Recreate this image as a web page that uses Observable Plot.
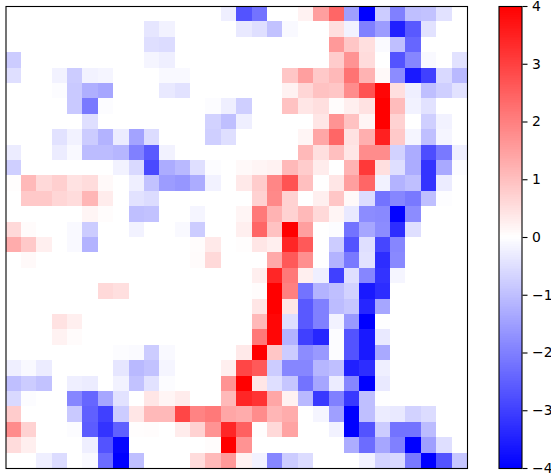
<!DOCTYPE html>
<html>
<head>
<meta charset="utf-8">
<script src="https://cdn.jsdelivr.net/npm/d3@7"></script>
<script src="https://cdn.jsdelivr.net/npm/@observablehq/plot@0.6"></script>
<style>
html,body{margin:0;padding:0;background:#fff;}
#wrap{position:relative;width:551px;height:476px;overflow:hidden;}
#wrap svg{position:absolute;left:0;top:0;background:transparent;}
</style>
</head>
<body>
<div id="wrap"></div>
<script>
const row00=[0,0,0,0,0,0,0,0,0,0,0,0,0,0,-.25,-2.7,-2.2,0,0,.2,1.5,2.4,-1.5,-4,-.8,-2,-1,-.95,-.45,0];
const row01=[0,0,0,0,0,0,0,0,0,-.4,-.2,0,0,0,0,-.35,-.5,-.95,-.1,0,0,.5,-.2,-2,-1.55,-3.5,-2.6,-.45,0,0];
const row02=[0,0,0,0,0,0,0,0,0,-.5,-.55,0,0,0,0,0,0,0,0,0,0,1.6,.9,.5,-.08,-1,-2.4,0,0,0];
const row03=[-.8,0,0,0,0,0,0,0,0,-.15,-.25,0,0,0,0,0,0,0,0,0,0,.8,1.7,.55,0,-2.7,-1.9,-.1,0,-.45];
const row04=[-.5,0,0,-.2,-.8,-.2,-.15,0,0,0,-.1,-.1,0,0,0,0,0,0,.9,1.5,.85,1.1,2.2,1.2,.1,-1.8,-3.6,-3,-.6,-1.1];
const row05=[0,0,0,-.05,-.85,-1.25,-1.4,0,0,0,-.35,-.45,0,0,0,0,0,0,.2,.65,.95,.9,1.8,2.7,3.9,.5,-.25,-1,-.75,-.45];
const row06=[0,0,0,0,-.85,-2.1,-.05,0,0,0,0,0,0,-.05,-.25,-.75,0,0,.95,.4,.5,.05,.25,.45,4,1.05,-.2,-.45,0,0];
const row07=[0,0,0,0,0,-.5,0,0,0,0,0,0,0,-.7,-1,-.25,0,0,0,0,.4,1.7,.95,.15,4,.7,0,-.75,-.2,0];
const row08=[0,0,0,-.45,-.2,-.8,-1.2,-.3,-1.45,-.55,0,0,0,-.75,-.5,0,0,0,0,.15,1.4,2.4,.45,1.25,3.5,.85,-.15,-1,-.15,0];
const row09=[-.3,0,0,-.3,-.1,-1.05,-1.05,-1.15,-2,-2.6,-.2,0,0,0,0,0,0,0,0,1.1,.5,1,.4,1.8,1.8,-.7,-1.3,-2.8,-2.1,-.25];
const row10=[-.75,0,0,0,0,0,0,-.2,-.6,-2.85,-1.3,-1.1,-.5,-.05,0,.1,.15,.2,1.1,.8,.3,0,1.2,3.1,.5,-.5,-1.3,-3.2,-1.35,-.05];
const row11=[.03,1.1,.6,.75,.45,.55,.1,0,-.25,-.95,-1.55,-1.65,-1.3,-.2,0,.35,.8,1.9,2.7,1,.02,.4,1.5,2.4,-.2,-1.2,-1,-3.2,-.3,0];
const row12=[0,.85,.85,.65,.55,1.15,.3,0,-.45,-.55,0,0,0,0,0,0,.7,1.85,.7,0,.25,.9,.1,-.55,-2.2,-1.9,-2.1,-1,-.03,0];
const row13=[0,0,0,0,0,.15,.05,0,-1,-.95,0,0,-.15,0,0,.15,2.1,1.2,.7,1.1,.6,.15,-.35,-1.8,-1.85,-3.95,-1.8,0,0,0];
const row14=[.6,.07,0,0,-.1,-.8,0,0,-.2,0,0,-.1,-.8,0,0,.25,2.4,.95,4,1.5,0,-.05,-2.2,-1.4,-1.8,-3.3,-.5,0,0,0];
const row15=[1.3,.85,.25,0,-.1,-1.2,0,0,0,0,0,0,.05,.35,0,.03,.4,.25,3.4,2.6,0,-.8,-2.7,-.5,-2.9,-1.9,0,0,0,0];
const row16=[0,.1,0,0,0,0,0,0,0,0,0,0,.07,.6,0,0,0,1.35,2.6,1.75,0,-1.2,-2.1,-.45,-3.3,-1.85,0,0,0,0];
const row17=[0,0,0,0,0,0,0,0,0,0,0,0,0,0,0,0,.25,3.4,2.1,.25,-.25,-3,-.5,-1.9,-3.2,-.15,0,0,0,0];
const row18=[0,0,0,0,0,0,.6,.5,0,0,0,0,0,0,0,0,.05,4,2,-2.2,-1.2,-1,-.7,-3.6,-3.3,0,0,0,0,0];
const row19=[0,0,0,0,0,0,0,0,0,0,0,0,0,0,0,0,.4,4,.4,-2.6,-2,-1.05,-.9,-3.4,-1.4,0,0,0,0,0];
const row20=[0,0,0,.45,.25,0,0,0,0,0,0,0,0,0,0,0,1.1,3.9,-.5,-2.6,-2,-.2,-1.6,-4,-.02,0,0,0,0,0];
const row21=[0,0,0,.2,.07,0,0,0,0,0,0,0,0,0,0,0,2.1,3.9,-1.2,-3,-3.4,-.05,-2.7,-3.6,-.35,0,0,0,0,0];
const row22=[0,0,0,0,0,0,0,-.05,-.08,-.8,-.1,0,0,0,0,.35,4,.9,-.8,-1.8,-1.6,-.05,-2.7,-3.6,-1.35,0,0,0,0,0];
const row23=[-.25,-.1,-.3,0,0,0,0,-.4,-1.1,-.95,-.15,0,0,0,.25,2.9,2.6,-.8,-1.9,-1.9,-1.15,-1,-3.5,-3.3,-.25,0,0,0,0,0];
const row24=[-1,-.8,-.95,0,-.25,-.3,0,-.2,-.95,-.45,-.05,0,0,0,1.7,4,.4,-.5,-.9,-2.2,-1.4,-.3,-1.9,-4,-.35,0,0,0,0,0];
const row25=[-.6,-.05,0,0,-1.9,-2.4,-1.4,-.45,0,.4,.15,.3,0,0,1.1,3.4,3.2,1.4,.2,-1.1,-3.1,-2,-3.1,-1,-.02,0,0,0,0,0];
const row26=[.8,0,0,0,-.85,-2.5,-3,-.8,.4,1.1,1.1,2.9,1.95,2.1,1.4,1.3,1.8,1.15,1.3,0,-.15,-1.5,-4,-1,-.3,-.35,-.7,-.55,0,0];
const row27=[1.8,.7,0,0,-.05,-2.55,-3.2,-2.5,.03,.05,0,.3,.7,1.7,3.4,2.5,.03,.6,1.45,0,0,-.2,-4,-2.7,-.8,-2.2,-2.2,-1.05,0,0];
const row28=[.55,.25,0,0,0,-.25,-2.7,-3.9,0,0,0,0,0,.05,4,1.7,0,0,0,0,0,0,-1.3,-2.3,-1.4,-2,-4,-1.5,-.5,0];
const row29=[0,0,-.25,-.55,0,-.1,-2.3,-4,-1,0,0,0,.55,1.1,1.6,.2,-.2,-1.9,-.8,-.55,0,0,0,-.2,-.7,-.6,-2.1,-4,-2.7,-.9];
const rows=[row00,row01,row02,row03,row04,row05,row06,row07,row08,row09,row10,row11,row12,row13,row14,row15,row16,row17,row18,row19,row20,row21,row22,row23,row24,row25,row26,row27,row28,row29];

const colorDomain=[-4,0,4];
const colorRange=["#0000ff","#ffffff","#ff0000"];
const barTicks=[-4,-3,-2,-1,0,1,2,3,4];
const barTickLabels=["−4","−3","−2","−1","0","1","2","3","4"];
const barLevels=d3.range(256).map(i=>-4+i*8/256);
const barStep=8/256;

const cells=rows.flatMap((r,y)=>r.map((v,x)=>({x,y,v})));
const color={type:"linear",domain:colorDomain,range:colorRange,interpolate:"rgb",clamp:true};
const fontStyle={fontFamily:"'DejaVu Sans'",fontSize:"13.9px",color:"#000",background:"transparent"};

const heat=Plot.plot({
  width:551,height:476,
  marginLeft:5.5,marginRight:84,marginTop:6,marginBottom:8,
  style:fontStyle,
  x:{type:"band",domain:d3.range(30),padding:0,round:false,axis:null},
  y:{type:"band",domain:d3.range(30),padding:0,round:false,axis:null},
  color,
  marks:[
    Plot.cell(cells,{x:"x",y:"y",fill:"v",shapeRendering:"crispEdges"}),
    Plot.frame({stroke:"#000",strokeWidth:1.1})
  ]
});

const bar=Plot.plot({
  width:551,height:476,
  marginLeft:498.5,marginRight:29.5,marginTop:6,marginBottom:8,
  style:fontStyle,
  x:{axis:null},
  y:{domain:[-4,4],axis:null},
  color,
  marks:[
    Plot.rect(barLevels,{y1:d=>d,y2:d=>d+barStep,fill:d=>d+barStep/2,shapeRendering:"crispEdges"}),
    Plot.frame({stroke:"#000",strokeWidth:1.1}),
    Plot.axisY(barTicks,{anchor:"right",tickSize:5,tickPadding:5,strokeWidth:1.1,fill:"#000",
      tickFormat:d=>barTickLabels[barTicks.indexOf(d)],label:null})
  ]
});

const wrap=document.getElementById("wrap");
wrap.appendChild(heat);
wrap.appendChild(bar);
</script>
</body>
</html>
